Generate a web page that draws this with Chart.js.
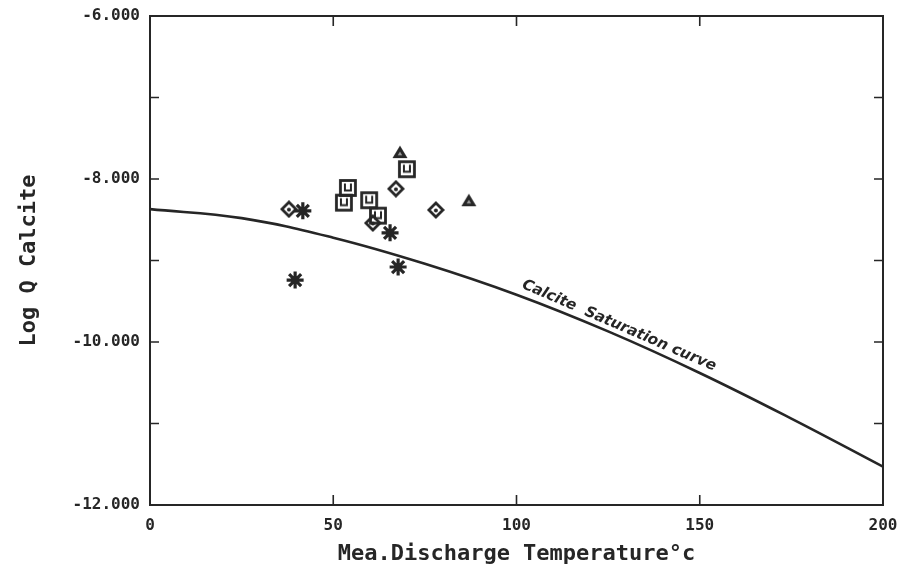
<!DOCTYPE html>
<html>
<head>
<meta charset="utf-8">
<script src="https://cdn.jsdelivr.net/npm/chart.js@4.4.0/dist/chart.umd.min.js"></script>
<style>
  html,body{margin:0;padding:0;background:#fff;}
  #wrap{width:913px;height:571px;}
</style>
</head>
<body>
<div id="wrap"><canvas id="chart" width="913" height="571"></canvas></div>
<script>
// measured discharge temperature (C) vs log Q calcite, per symbol group
const starTemp=[39.6,41.7,65.5,67.7];
const starLogQ=[-9.24,-8.39,-8.66,-9.08];
const diamondTemp=[37.9,67.1,78.0,60.8];
const diamondLogQ=[-8.37,-8.12,-8.38,-8.54];
const squareTemp=[54.0,52.9,70.1,59.8,62.2];
const squareLogQ=[-8.11,-8.29,-7.88,-8.26,-8.45];
const triangleTemp=[68.2,87.0];
const triangleLogQ=[-7.67,-8.26];

// calcite saturation curve
const curveTemp=[0,25,50,75,100,125,150,175,200];
const curveLogQ=[-8.37,-8.48,-8.72,-9.04,-9.42,-9.87,-10.38,-10.94,-11.53];

const xTicks=[0,50,100,150,200];
const yLabelTicks=[-6,-8,-10,-12];
const yMinorTicks=[-7,-8,-9,-10,-11];

const ink='#262626';
const toPts=(xs,ys)=>xs.map((x,i)=>({x:x,y:ys[i]}));

// marker: square with a little U inside
function squareMarker(){
  let c=document.createElement('canvas'); c.width=20; c.height=20;
  let g=c.getContext('2d');
  g.strokeStyle=ink; g.lineWidth=2.8;
  g.strokeRect(2.5,2.5,15,15);
  g.lineWidth=2;
  g.beginPath(); g.moveTo(7,5.5); g.lineTo(7,12.5); g.lineTo(13,12.5); g.lineTo(13,5.5); g.stroke();
  return c;
}
// marker: diamond with a dot inside
function diamondMarker(){
  let c=document.createElement('canvas'); c.width=18; c.height=18;
  let g=c.getContext('2d');
  g.strokeStyle=ink; g.lineWidth=2.8;
  g.beginPath(); g.moveTo(9,2); g.lineTo(16,9); g.lineTo(9,16); g.lineTo(2,9); g.closePath(); g.stroke();
  g.fillStyle=ink; g.beginPath(); g.arc(9,9.5,2,0,Math.PI*2); g.fill();
  return c;
}
// marker: filled triangle with a small light centre
function triangleMarker(){
  let c=document.createElement('canvas'); c.width=18; c.height=16;
  let g=c.getContext('2d');
  g.fillStyle=ink;
  g.beginPath(); g.moveTo(9,1.5); g.lineTo(16.5,14); g.lineTo(1.5,14); g.closePath(); g.fill();
  g.fillStyle='#9a9a9a';
  g.beginPath(); g.moveTo(9,7.5); g.lineTo(11.3,11.3); g.lineTo(6.7,11.3); g.closePath(); g.fill();
  return c;
}

// frame and inward ticks on all four sides
const framePlugin={
  id:'frame',
  afterDraw(chart){
    const {ctx,chartArea:a,scales:{x,y}}=chart;
    ctx.save();
    ctx.strokeStyle=ink; ctx.lineWidth=2;
    ctx.strokeRect(a.left,a.top,a.right-a.left,a.bottom-a.top);
    ctx.lineWidth=1.6;
    xTicks.slice(1,-1).forEach(v=>{
      let px=x.getPixelForValue(v);
      ctx.beginPath(); ctx.moveTo(px,a.bottom); ctx.lineTo(px,a.bottom-10);
      ctx.moveTo(px,a.top); ctx.lineTo(px,a.top+10); ctx.stroke();
    });
    yMinorTicks.forEach(v=>{
      let py=y.getPixelForValue(v);
      ctx.beginPath(); ctx.moveTo(a.left,py); ctx.lineTo(a.left+9,py);
      ctx.moveTo(a.right,py); ctx.lineTo(a.right-9,py); ctx.stroke();
    });
    // curve label along the line
    let p1x=x.getPixelForValue(110), p1y=y.getPixelForValue(-9.59);
    let p2x=x.getPixelForValue(145), p2y=y.getPixelForValue(-10.27);
    let ang=Math.atan2(p2y-p1y,p2x-p1x);
    let cx=x.getPixelForValue(127), cy=y.getPixelForValue(-9.90);
    ctx.translate(cx,cy); ctx.rotate(ang);
    ctx.fillStyle=ink; ctx.font='italic bold 15px "DejaVu Sans"';
    ctx.textAlign='center'; ctx.textBaseline='alphabetic';
    ctx.fillText('Calcite  Saturation curve',0,-5);
    ctx.restore();
  }
};

const monoTick={family:'"DejaVu Sans Mono"',size:16,weight:'bold'};
const monoTitle={family:'"DejaVu Sans Mono"',size:22,weight:'bold'};

new Chart(document.getElementById('chart'),{
  type:'scatter',
  data:{
    datasets:[
      {label:'curve',type:'line',data:toPts(curveTemp,curveLogQ),borderColor:ink,borderWidth:2.6,
       pointRadius:0,tension:0.4,fill:false},
      {label:'stars',data:toPts(starTemp,starLogQ),pointStyle:'star',pointRadius:8.5,borderColor:ink,borderWidth:3.2},
      {label:'diamonds',data:toPts(diamondTemp,diamondLogQ),pointStyle:diamondMarker(),pointRadius:9},
      {label:'squares',data:toPts(squareTemp,squareLogQ),pointStyle:squareMarker(),pointRadius:10},
      {label:'triangles',data:toPts(triangleTemp,triangleLogQ),pointStyle:triangleMarker(),pointRadius:8}
    ]
  },
  options:{
    responsive:false,
    animation:false,
    layout:{padding:{top:16,right:30,left:0,bottom:0}},
    plugins:{legend:{display:false},tooltip:{enabled:false}},
    scales:{
      x:{
        type:'linear',min:0,max:200,
        grid:{display:false,drawTicks:false},
        border:{display:false},
        afterBuildTicks:s=>{s.ticks=xTicks.map(v=>({value:v}));},
        afterFit:s=>{s.height=66;s.paddingLeft=0;s.paddingRight=0;},
        ticks:{color:ink,font:monoTick,padding:11,maxRotation:0},
        title:{display:true,text:'Mea.Discharge Temperature°c',color:ink,font:monoTitle,padding:{top:0}}
      },
      y:{
        type:'linear',min:-12,max:-6,
        grid:{display:false,drawTicks:false},
        border:{display:false},
        afterBuildTicks:s=>{s.ticks=yLabelTicks.map(v=>({value:v}));},
        afterFit:s=>{s.width=150;s.paddingTop=0;s.paddingBottom=0;},
        ticks:{color:ink,font:monoTick,padding:10,callback:v=>v.toFixed(3)},
        title:{display:true,text:'Log Q Calcite',color:ink,font:monoTitle,padding:{bottom:0,top:16}}
      }
    }
  },
  plugins:[framePlugin]
});
</script>
</body>
</html>
